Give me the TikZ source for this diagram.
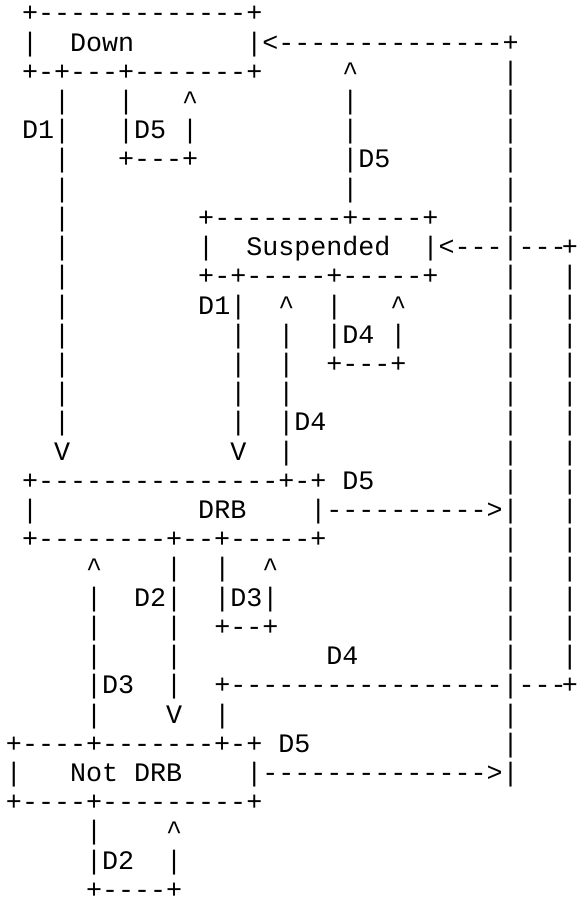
\documentclass[tikz,border=0pt]{standalone}
\usepackage{fontspec}
\setmonofont{Liberation Mono}
\ExplSyntaxOn
\cs_new:Npn \dsh #1 { \prg_replicate:nn {#1} {-} }
\cs_new_protected:Npn \caret { \textasciicircum }
\tl_new:N \l__asc_seg_tl
\cs_new_protected:Npn \cellrow #1
  {
    \tl_set:Nx \l__asc_seg_tl {#1}
    \tl_map_inline:Nn \l__asc_seg_tl { \hbox_to_wd:nn {16.02pt} { \hss ##1 \hss } }
  }
\ExplSyntaxOff
\tikzset{
  seg/.style={inner sep=0pt, outer sep=0pt, anchor=base west, text=black,
    font=\ttfamily\fontsize{26.7pt}{30pt}\selectfont}
}
\newcommand\seg[3]{\node[seg] (r#1c#2) at ({5.99+16.02*#2-4.8*(#2==35)},{-21.8-29.22*#1}) {\cellrow{#3}};}
\begin{document}
\begin{tikzpicture}[x=1pt,y=1pt]
\fill[white] (0,0) rectangle (578,-902);
\useasboundingbox (0,0) rectangle (578,-902);
% row 0
\seg{0}{1}{+\dsh{13}+}
% row 1
\seg{1}{1}{|}\seg{1}{4}{Down}\seg{1}{15}{|<\dsh{14}+}
% row 2
\seg{2}{1}{+-+\dsh{3}+\dsh{7}+}\seg{2}{21}{\caret}\seg{2}{31}{|}
% row 3
\seg{3}{3}{|}\seg{3}{7}{|}\seg{3}{11}{\caret}\seg{3}{21}{|}\seg{3}{31}{|}
% row 4
\seg{4}{1}{D1|}\seg{4}{7}{|D5}\seg{4}{11}{|}\seg{4}{21}{|}\seg{4}{31}{|}
% row 5
\seg{5}{3}{|}\seg{5}{7}{+\dsh{3}+}\seg{5}{21}{|D5}\seg{5}{31}{|}
% row 6
\seg{6}{3}{|}\seg{6}{21}{|}\seg{6}{31}{|}
% row 7
\seg{7}{3}{|}\seg{7}{12}{+\dsh{8}+\dsh{4}+}\seg{7}{31}{|}
% row 8
\seg{8}{3}{|}\seg{8}{12}{|}\seg{8}{15}{Suspended}\seg{8}{26}{|<\dsh{3}|\dsh{3}}\seg{8}{35}{+}
% row 9
\seg{9}{3}{|}\seg{9}{12}{+-+\dsh{5}+\dsh{5}+}\seg{9}{31}{|}\seg{9}{35}{|}
% row 10
\seg{10}{3}{|}\seg{10}{12}{D1|}\seg{10}{17}{\caret}\seg{10}{20}{|}\seg{10}{24}{\caret}\seg{10}{31}{|}\seg{10}{35}{|}
% row 11
\seg{11}{3}{|}\seg{11}{14}{|}\seg{11}{17}{|}\seg{11}{20}{|D4}\seg{11}{24}{|}\seg{11}{31}{|}\seg{11}{35}{|}
% row 12
\seg{12}{3}{|}\seg{12}{14}{|}\seg{12}{17}{|}\seg{12}{20}{+\dsh{3}+}\seg{12}{31}{|}\seg{12}{35}{|}
% row 13
\seg{13}{3}{|}\seg{13}{14}{|}\seg{13}{17}{|}\seg{13}{31}{|}\seg{13}{35}{|}
% row 14
\seg{14}{3}{|}\seg{14}{14}{|}\seg{14}{17}{|D4}\seg{14}{31}{|}\seg{14}{35}{|}
% row 15
\seg{15}{3}{V}\seg{15}{14}{V}\seg{15}{17}{|}\seg{15}{31}{|}\seg{15}{35}{|}
% row 16
\seg{16}{1}{+\dsh{15}+-+}\seg{16}{21}{D5}\seg{16}{31}{|}\seg{16}{35}{|}
% row 17
\seg{17}{1}{|}\seg{17}{12}{DRB}\seg{17}{19}{|\dsh{10}>|}\seg{17}{35}{|}
% row 18
\seg{18}{1}{+\dsh{8}+\dsh{2}+\dsh{5}+}\seg{18}{31}{|}\seg{18}{35}{|}
% row 19
\seg{19}{5}{\caret}\seg{19}{10}{|}\seg{19}{13}{|}\seg{19}{16}{\caret}\seg{19}{31}{|}\seg{19}{35}{|}
% row 20
\seg{20}{5}{|}\seg{20}{8}{D2|}\seg{20}{13}{|D3|}\seg{20}{31}{|}\seg{20}{35}{|}
% row 21
\seg{21}{5}{|}\seg{21}{10}{|}\seg{21}{13}{+\dsh{2}+}\seg{21}{31}{|}\seg{21}{35}{|}
% row 22
\seg{22}{5}{|}\seg{22}{10}{|}\seg{22}{20}{D4}\seg{22}{31}{|}\seg{22}{35}{|}
% row 23
\seg{23}{5}{|D3}\seg{23}{10}{|}\seg{23}{13}{+\dsh{17}|\dsh{3}}\seg{23}{35}{+}
% row 24
\seg{24}{5}{|}\seg{24}{10}{V}\seg{24}{13}{|}\seg{24}{31}{|}
% row 25
\seg{25}{0}{+\dsh{4}+\dsh{7}+-+}\seg{25}{17}{D5}\seg{25}{31}{|}
% row 26
\seg{26}{0}{|}\seg{26}{4}{Not}\seg{26}{8}{DRB}\seg{26}{15}{|\dsh{14}>|}
% row 27
\seg{27}{0}{+\dsh{4}+\dsh{9}+}
% row 28
\seg{28}{5}{|}\seg{28}{10}{\caret}
% row 29
\seg{29}{5}{|D2}\seg{29}{10}{|}
% row 30
\seg{30}{5}{+\dsh{4}+}
\end{tikzpicture}
\end{document}
